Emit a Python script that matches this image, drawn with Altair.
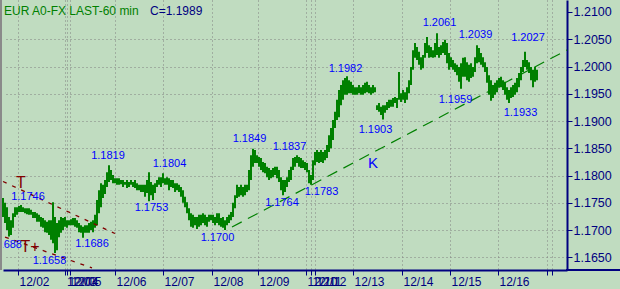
import altair as alt
import pandas as pd

# ---- hourly bar highs / lows (EUR A0-FX, 60 min), bar index 0..267 ----
highs = [1.1759,1.1750,1.1742,1.1724,1.1718,1.1731,1.1742,1.1742,1.1744,1.1746,
1.1742,1.1740,1.1740,1.1740,1.1737,1.1733,1.1733,1.1731,1.1728,1.1724,
1.1722,1.1718,1.1715,1.1718,1.1718,1.1751,1.1724,1.1713,1.1718,1.1724,
1.1722,1.1724,1.1718,1.1718,1.1720,1.1722,1.1722,1.1718,1.1713,1.1709,
1.1706,1.1709,1.1709,1.1713,1.1715,1.1718,1.1728,1.1755,1.1773,1.1786,
1.1783,1.1792,1.1806,1.1819,1.1810,1.1801,1.1795,1.1795,1.1795,1.1792,
1.1792,1.1788,1.1792,1.1788,1.1792,1.1788,1.1792,1.1786,1.1783,1.1783,
1.1783,1.1783,1.1792,1.1806,1.1788,1.1783,1.1786,1.1792,1.1797,1.1797,
1.1804,1.1795,1.1797,1.1795,1.1792,1.1792,1.1786,1.1786,1.1783,1.1779,
1.1773,1.1761,1.1751,1.1740,1.1731,1.1728,1.1724,1.1724,1.1728,1.1728,
1.1731,1.1728,1.1724,1.1728,1.1728,1.1728,1.1724,1.1731,1.1731,1.1722,
1.1724,1.1718,1.1724,1.1728,1.1733,1.1750,1.1764,1.1783,1.1779,1.1783,
1.1779,1.1783,1.1783,1.1810,1.1837,1.1849,1.1847,1.1837,1.1834,1.1832,
1.1825,1.1823,1.1816,1.1814,1.1810,1.1814,1.1816,1.1816,1.1810,1.1797,
1.1792,1.1792,1.1797,1.1810,1.1816,1.1832,1.1834,1.1837,1.1834,1.1832,
1.1828,1.1825,1.1823,1.1810,1.1801,1.1828,1.1843,1.1847,1.1843,1.1847,
1.1843,1.1847,1.1856,1.1874,1.1887,1.1902,1.1917,1.1939,1.1957,1.1966,
1.1975,1.1979,1.1982,1.1975,1.1972,1.1966,1.1962,1.1962,1.1966,1.1962,
1.1966,1.1970,1.1972,1.1966,1.1962,1.1966,1.1962,
1.1929,1.1933,1.1926,
1.1929,1.1929,1.1935,1.1939,1.1939,1.1942,1.1944,1.1942,1.1990,1.1951,
1.1957,1.1953,1.1962,1.1975,1.1999,1.2030,1.2043,1.2036,1.2027,1.2017,
1.2021,1.2043,1.2054,1.2039,1.2036,1.2030,1.2043,1.2061,1.2036,1.2039,
1.2045,1.2049,1.2043,1.2025,1.2017,1.2012,1.2006,1.2003,1.1999,1.2006,
1.2016,1.2017,1.2008,1.2003,1.2006,1.1999,1.2017,1.2039,1.2034,1.2025,
1.2017,1.2008,1.1999,1.1984,1.1975,1.1966,1.1970,1.1975,1.1979,1.1981,
1.1975,1.1972,1.1962,1.1957,1.1962,1.1966,1.1970,1.1979,1.1988,1.1999,
1.2012,1.2027,1.2012,1.2008,1.1999,1.1994,1.1999,1.1994]

lows = [1.1724,1.1713,1.1700,1.1688,1.1691,1.1704,1.1724,1.1728,1.1733,1.1733,
1.1733,1.1731,1.1729,1.1728,1.1728,1.1722,1.1722,1.1715,1.1715,1.1706,
1.1704,1.1696,1.1695,1.1691,1.1682,1.1676,1.1658,1.1663,1.1687,1.1695,
1.1700,1.1706,1.1704,1.1709,1.1709,1.1709,1.1706,1.1704,1.1696,1.1695,
1.1686,1.1695,1.1695,1.1695,1.1700,1.1696,1.1704,1.1709,1.1731,1.1742,
1.1759,1.1766,1.1779,1.1788,1.1792,1.1786,1.1786,1.1783,1.1783,1.1784,
1.1779,1.1783,1.1777,1.1779,1.1783,1.1779,1.1777,1.1773,1.1773,1.1770,
1.1770,1.1761,1.1768,1.1753,1.1764,1.1755,1.1768,1.1779,1.1783,1.1779,
1.1786,1.1783,1.1783,1.1773,1.1779,1.1777,1.1770,1.1773,1.1770,1.1761,
1.1750,1.1742,1.1731,1.1718,1.1706,1.1704,1.1709,1.1702,1.1706,1.1709,
1.1713,1.1709,1.1706,1.1715,1.1718,1.1713,1.1709,1.1713,1.1709,1.1706,
1.1704,1.1700,1.1709,1.1713,1.1718,1.1724,1.1740,1.1759,1.1761,1.1764,
1.1761,1.1764,1.1770,1.1773,1.1792,1.1816,1.1823,1.1823,1.1816,1.1810,
1.1806,1.1804,1.1797,1.1792,1.1795,1.1797,1.1801,1.1795,1.1788,1.1773,
1.1764,1.1770,1.1779,1.1788,1.1792,1.1810,1.1816,1.1823,1.1816,1.1814,
1.1814,1.1810,1.1806,1.1786,1.1783,1.1792,1.1819,1.1825,1.1823,1.1825,
1.1823,1.1828,1.1832,1.1843,1.1850,1.1865,1.1887,1.1902,1.1907,1.1929,
1.1939,1.1948,1.1948,1.1951,1.1951,1.1948,1.1948,1.1948,1.1951,1.1948,
1.1948,1.1951,1.1953,1.1951,1.1948,1.1951,1.1953,
1.1920,1.1917,1.1911,
1.1903,1.1915,1.1920,1.1924,1.1926,1.1926,1.1933,1.1924,1.1939,1.1935,
1.1939,1.1933,1.1939,1.1951,1.1966,1.1994,1.2016,1.2012,1.2003,1.1994,
1.1997,1.2016,1.2025,1.2016,1.2017,1.2016,1.2017,1.2021,1.2016,1.2021,
1.2025,1.2021,1.2006,1.1994,1.1999,1.1994,1.1990,1.1984,1.1972,1.1959,
1.1981,1.1981,1.1975,1.1972,1.1979,1.1981,1.1990,1.2006,1.2008,1.2003,
1.1999,1.1990,1.1970,1.1948,1.1937,1.1942,1.1948,1.1953,1.1961,1.1962,
1.1957,1.1948,1.1939,1.1933,1.1942,1.1944,1.1948,1.1953,1.1962,1.1975,
1.1990,1.1999,1.1994,1.1988,1.1975,1.1962,1.1972,1.1975]

# ---- day ticks (bar index where each day starts) ----
day_bars = [7.5, 31.25, 32.0, 33.5, 56, 80, 104.5, 127.5, 151.5, 154, 156,
            175, 199.5, 223.5, 247.5, 272, 274.5]
day_labels = ["12/02", "12/03", "12/04", "12/05", "12/06", "12/07", "12/08",
              "12/09", "12/10", "12/11", "12/12", "12/13", "12/14", "12/15",
              "12/16", "", ""]
price_ticks = [1.165, 1.170, 1.175, 1.180, 1.185, 1.190, 1.195, 1.200, 1.205, 1.210]

# ---- swing high / low annotations ----
ann_text = ["1.1746", "1.1658", "1.1819", "1.1804", "1.1753", "1.1686", "1.1700",
            "1.1764", "1.1837", "1.1849", "1.1783", "1.1982", "1.1903", "1.2061",
            "1.2039", "1.2027", "1.1959", "1.1933"]
ann_bar = [12.5, 23.25, 52.5, 83.25, 74.25, 44.5, 107.25, 139.5, 143.25, 123.25,
           159.25, 171.25, 186.25, 218.25, 236.25, 262.5, 226.25, 258.75]
ann_price = [1.17597, 1.16432, 1.18358, 1.18211, 1.17413, 1.16744, 1.16863,
             1.17505, 1.18523, 1.18670, 1.17689, 1.19963, 1.18835, 1.20807,
             1.20578, 1.20514, 1.19385, 1.19138]

# ---- trend lines ----
k_bar = [114.5, 282]
k_price = [1.17056, 1.20303]
t_up_bar = [0, 56]
t_up_price = [1.17890, 1.16936]
t_lo_bar = [1, 44.5]
t_lo_price = [1.16872, 1.16304]

last_close = "1.1989"

NAVY = "#000080"
FONT = "Liberation Sans"
BG = "#C0DCC0"

bars_df = pd.DataFrame({"bar": list(range(len(highs))), "high": highs, "low": lows})
ann_df = pd.DataFrame({"bar": ann_bar, "price": ann_price, "label": ann_text})

xs = alt.Scale(domain=[0, 282], nice=False, zero=False)
ys = alt.Scale(domain=[1.16267, 1.2122], nice=False, zero=False)

expr = "''"
for v, l in reversed(list(zip(day_bars, day_labels))):
    expr = f"datum.value == {v} ? '{l}' : ({expr})"

xaxis = alt.Axis(values=day_bars, labelExpr=expr, orient="bottom", title=None,
                 domainColor=NAVY, domainWidth=2, tickColor=NAVY, tickSize=5,
                 labelColor=NAVY, labelFont=FONT, labelFontSize=12,
                 labelAlign="left", labelBaseline="top", labelOffset=1, labelPadding=1,
                 labelOverlap=False, labelFlush=False,
                 grid=True, gridColor="#808080", gridDash=[1, 3], gridWidth=1)
yaxis = alt.Axis(values=price_ticks, format=".4f", orient="right", title=None,
                 domainColor=NAVY, domainWidth=2, tickColor=NAVY, tickSize=5,
                 labelColor=NAVY, labelFont=FONT, labelFontSize=12.5, labelPadding=1,
                 labelOverlap=False, labelFlush=False,
                 grid=True, gridColor="#808080", gridDash=[1, 3], gridWidth=1,
                 gridOpacity={"condition": {"test": "datum.value > 1.2095", "value": 0}, "value": 1})


def X(f):
    return alt.X(f, type="quantitative", scale=xs, axis=xaxis)


def Y(f):
    return alt.Y(f, type="quantitative", scale=ys, axis=yaxis)


bars = alt.Chart(bars_df).mark_rule(color="#008000", strokeWidth=2).encode(
    x=X("bar"), y=Y("low"), y2="high")


def tline(bx, py, color, dash, w):
    df = pd.DataFrame({"bar": bx, "price": py})
    return alt.Chart(df).mark_line(color=color, strokeDash=dash, strokeWidth=w).encode(
        x=X("bar"), y=Y("price"))


k_line = tline(k_bar, k_price, "#008000", [11, 7], 1.2)
t_up = tline(t_up_bar, t_up_price, "#800000", [4, 6], 1.3)
t_lo = tline(t_lo_bar, t_lo_price, "#800000", [4, 6], 1.3)

ann = alt.Chart(ann_df).mark_text(color="#0000FF", font=FONT, fontSize=11,
                                  align="center", baseline="middle").encode(
    x=X("bar"), y=Y("price"), text="label:N")

clipped = alt.Chart(pd.DataFrame({"bar": [9.5], "price": [1.16725], "label": ["1.1688"]})).mark_text(
    color="#0000FF", font=FONT, fontSize=11, align="right", baseline="middle", clip=True).encode(
    x=X("bar"), y=Y("price"), text="label:N")

marks_df = pd.DataFrame({"bar": [9, 13.5], "price": [1.17872, 1.16689], "label": ["T", "T+"]})
t_marks = alt.Chart(marks_df).mark_text(color="#800000", font=FONT, fontSize=16,
                                        align="center", baseline="middle").encode(
    x=X("bar"), y=Y("price"), text="label:N")

k_df = pd.DataFrame({"bar": [185], "price": [1.18221], "label": ["K"]})
k_text = alt.Chart(k_df).mark_text(color="#0000FF", font=FONT, fontSize=15,
                                   align="center", baseline="middle").encode(
    x=X("bar"), y=Y("price"), text="label:N")

title1 = alt.Chart(pd.DataFrame({"t": ["EUR A0-FX LAST-60 min"]})).mark_text(
    color="#008000", font=FONT, fontSize=12, align="left", baseline="alphabetic").encode(
    x=alt.value(1), y=alt.value(15), text="t:N")
title2 = alt.Chart(pd.DataFrame({"t": ["C=" + last_close]})).mark_text(
    color=NAVY, font=FONT, fontSize=12, align="left", baseline="alphabetic").encode(
    x=alt.value(147), y=alt.value(15), text="t:N")

left_border = alt.Chart(pd.DataFrame({"a": [0]})).mark_rule(color="#8a8a8a", strokeWidth=2).encode(
    x=alt.value(-2), y=alt.value(0), y2=alt.value(270))
bottom_ext = alt.Chart(pd.DataFrame({"a": [0]})).mark_rule(color=NAVY, strokeWidth=2).encode(
    x=alt.value(563), x2=alt.value(620), y=alt.value(270))

chart = alt.layer(
    bars, k_line, t_up, t_lo, ann, clipped, t_marks, k_text, title1, title2,
    left_border, bottom_ext
).properties(
    width=564, height=270,
    autosize=alt.AutoSizeParams(type="none"),
    padding={"left": 3, "top": 0, "right": 53, "bottom": 19},
    background=BG,
).configure_view(stroke=None)

chart.save("out.html", embed_options={"renderer": "svg", "actions": False})
